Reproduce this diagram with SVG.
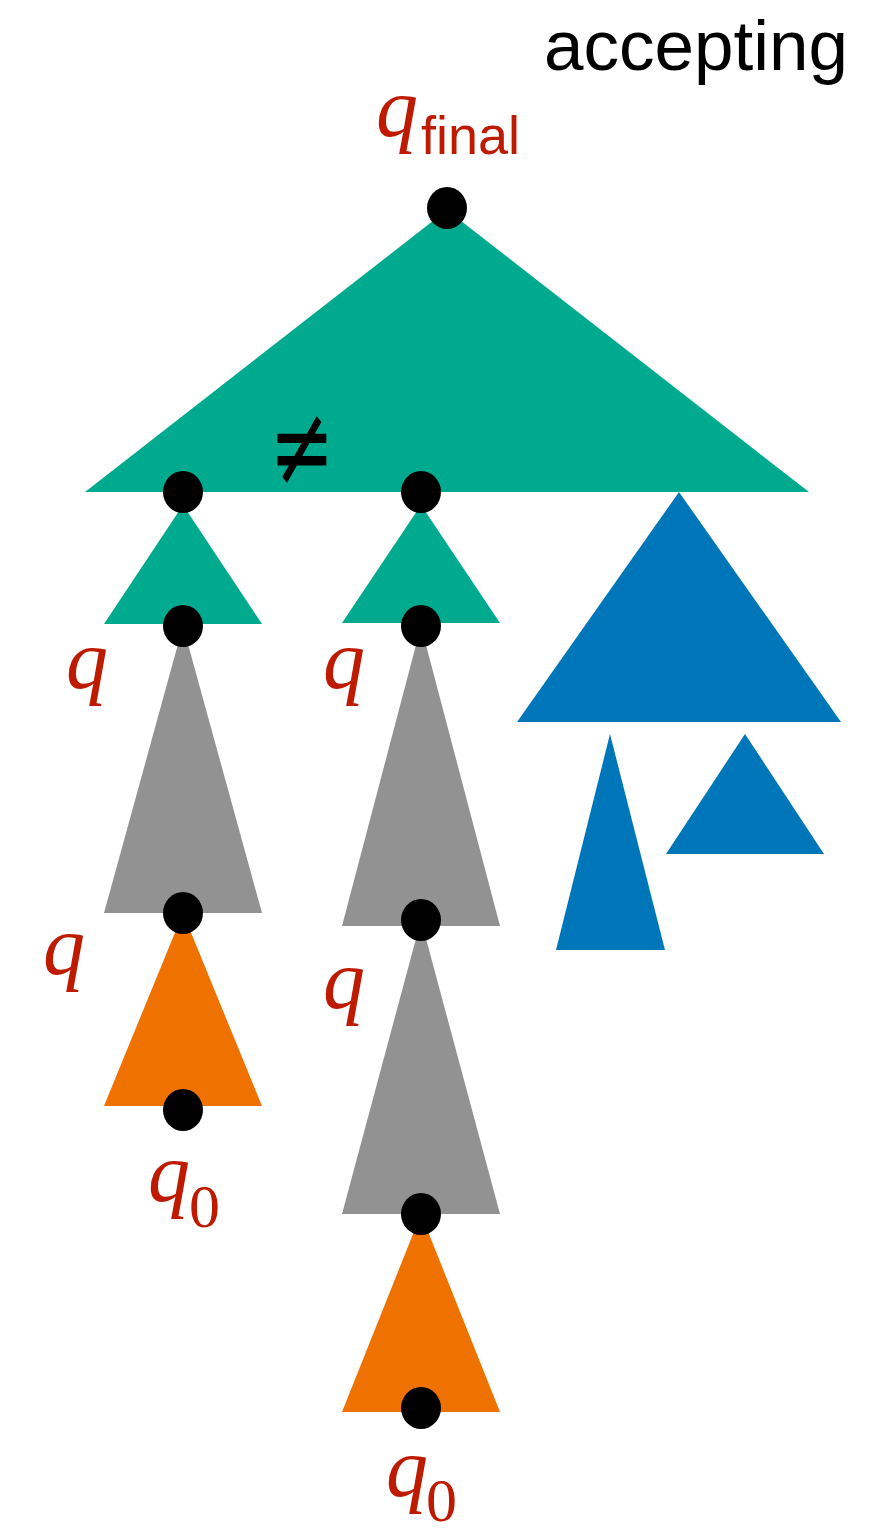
<svg xmlns="http://www.w3.org/2000/svg" width="872" height="1533" viewBox="0 0 872 1533">
<style>
.g{fill:#00AA8E}.b{fill:#0076BA}.gr{fill:#929292}.o{fill:#EF7100}
.d{fill:#000}
.q{font-family:"Liberation Serif",serif;font-style:italic;fill:#BE1A00;font-size:84px}
.s0{font-family:"Liberation Serif",serif;fill:#BE1A00;font-size:62px}
.sf{font-family:"Liberation Sans",sans-serif;fill:#BE1A00;font-size:54px}
.t{font-family:"Liberation Sans",sans-serif;fill:#000;font-size:71px}
</style>
<rect width="872" height="1533" fill="#fff"/>
<g id="connectors"></g>
<g id="tree-top"><polygon class="g" points="447,210 85,492 809,492"/></g>
<g id="tree-left-green"><polygon class="g" points="183,505 104,624 262,624"/></g>
<g id="tree-mid-green"><polygon class="g" points="421,505 342,623 500,623"/></g>
<g id="tree-left-gray"><polygon class="gr" points="183,626 104,913 262,913"/></g>
<g id="tree-left-orange"><polygon class="o" points="183,913 104,1106 262,1106"/></g>
<g id="tree-mid-gray1"><polygon class="gr" points="421,626 342,926 500,926"/></g>
<g id="tree-mid-gray2"><polygon class="gr" points="421,920 342,1214 500,1214"/></g>
<g id="tree-mid-orange"><polygon class="o" points="421,1214 342,1412 500,1412"/></g>
<g id="tree-blue-big"><polygon class="b" points="679,492 517,722 841,722"/></g>
<g id="tree-blue-thin"><polygon class="b" points="610,734 556,950 665,950"/></g>
<g id="tree-blue-small"><polygon class="b" points="745,734 666,854 824,854"/></g>
<g id="dots">
<ellipse class="d" cx="447" cy="208" rx="20" ry="21"/>
<ellipse class="d" cx="183" cy="492" rx="20" ry="21"/>
<ellipse class="d" cx="421" cy="492" rx="20" ry="21"/>
<ellipse class="d" cx="183" cy="626" rx="20" ry="21"/>
<ellipse class="d" cx="421" cy="626" rx="20" ry="21"/>
<ellipse class="d" cx="183" cy="913" rx="20" ry="21"/>
<ellipse class="d" cx="421" cy="920" rx="20" ry="21"/>
<ellipse class="d" cx="183" cy="1110" rx="20" ry="21"/>
<ellipse class="d" cx="421" cy="1214" rx="20" ry="21"/>
<ellipse class="d" cx="421" cy="1408" rx="20" ry="21"/>
</g>
<g id="labels">
<text class="t" x="848" y="70" text-anchor="end">accepting</text>
<text x="376" y="136"><tspan class="q">q</tspan><tspan class="sf" x="421" y="154">final</tspan></text>
<text class="q" x="66" y="688">q</text>
<text class="q" x="323" y="688">q</text>
<text class="q" x="43" y="974">q</text>
<text class="q" x="323" y="1008">q</text>
<text x="148" y="1201"><tspan class="q">q</tspan><tspan class="s0" x="189" y="1227">0</tspan></text>
<text x="386" y="1496"><tspan class="q">q</tspan><tspan class="s0" x="426" y="1521">0</tspan></text>
<text transform="translate(302,449) scale(1,1.45)" x="0" y="25" text-anchor="middle" font-family="DejaVu Sans, sans-serif" font-size="78" fill="#000">≠</text>
</g>
</svg>
